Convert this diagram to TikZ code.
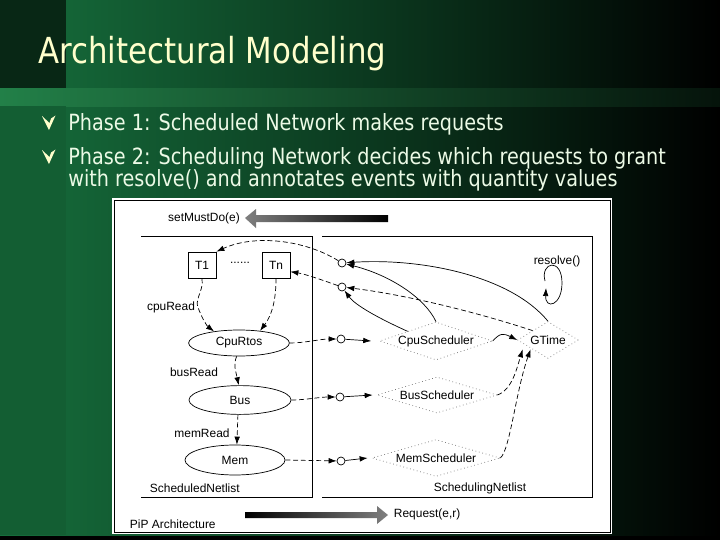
\documentclass[tikz,border=0pt]{standalone}
\usepackage{fontspec}
\usepackage{xcolor}
\usepackage{tikz}
\usetikzlibrary{arrows.meta,positioning,shapes.geometric}

\newfontfamily\slidefont[FakeStretch=0.86]{DejaVu Sans}
\newfontfamily\diagfont{Liberation Sans}

\definecolor{slidegreen}{RGB}{22,110,60}
\definecolor{bandgreen}{RGB}{34,128,72}
\definecolor{titleyellow}{RGB}{255,255,204}
\definecolor{bullettext}{RGB}{236,250,230}

\begin{document}
\begin{tikzpicture}[
    x=0.25mm, y=-0.25mm,
    font=\diagfont\fontsize{8.5}{10}\selectfont,
    >={Latex[length=2mm,width=1.4mm]},
    task/.style={draw, line width=0.5pt, minimum width=7mm, minimum height=6.5mm, inner sep=0pt},
    res/.style={draw, ellipse, line width=0.5pt, inner sep=0pt},
    port/.style={draw, circle, line width=0.5pt, minimum size=2mm, inner sep=0pt, fill=white},
    sched/.style={draw=black!55, dotted, diamond, line width=0.5pt, inner sep=0pt},
    flow/.style={->, dash pattern=on 3.5pt off 2pt, line width=0.5pt},
    link/.style={->, line width=0.5pt},
    netline/.style={line width=0.6pt},
    slidetitle/.style={anchor=base west, inner sep=0pt, text=titleyellow,
                       font=\slidefont\fontsize{25.5}{30}\selectfont},
    bulletline/.style={anchor=base west, inner sep=0pt, text=bullettext,
                       font=\slidefont\fontsize{15.9}{19}\selectfont}
]
\useasboundingbox (0,0) rectangle (720,540);

% --- slide background ---
\fill[black] (0,0) rectangle (720,540);
\shade[left color=slidegreen, right color=slidegreen!50!black] (0,0) rectangle (380,535);
\shade[left color=slidegreen!50!black, right color=black] (380,0) rectangle (720,535);
\shade[left color=bandgreen, right color=black!85!bandgreen] (0,88) rectangle (720,106);
\fill[slidegreen!35!black] (0,0) rectangle (66,88);
\fill[slidegreen!85!black] (0,106) rectangle (66,535);

% --- title and bullets ---
\node[slidetitle] (title) at (38,63) {Architectural Modeling};
\fill[titleyellow] (42,116) -- (49,130) -- (55.5,115.5) -- (51,118.5) -- (49.5,123) -- cycle;
\fill[titleyellow] (42,150) -- (49,164) -- (55.5,149.5) -- (51,152.5) -- (49.5,157) -- cycle;
\node[bulletline] (phase1) at (68,130) {Phase 1: Scheduled Network makes requests};
\node[bulletline] (phase2) at (68,164) {Phase 2: Scheduling Network decides which requests to grant};
\node[bulletline] (phase2b) at (68,186) {with resolve() and annotates events with quantity values};

% --- diagram panel ---
\fill[white] (112,198) rectangle (612,534);
\draw[line width=0.6pt] (114,200) rectangle (610,532);
\draw[netline] (141,236) -- (312,236) -- (312,497) -- (141,497);
\draw[netline] (322,236) -- (592,236) -- (592,497) -- (322,497);

% big arrows
\shade[left color=black!50, right color=black]
  (245,218) -- (256,209) -- (256,215) -- (388,215) -- (388,222) -- (256,222) -- (256,228) -- cycle;
\shade[left color=black, right color=black!50]
  (245,512) -- (377,512) -- (377,506) -- (388,515) -- (377,524) -- (377,518) -- (245,518) -- cycle;
\node (mustdo) at (204,218) {setMustDo(e)};
\node[anchor=west] (request) at (389,514) {Request(e,r)};

% --- Scheduled netlist ---
\node[task] (t1) at (202,265) {T1};
\node[task] (tn) at (276,265) {Tn};
\node (ellip) at (240,263) {......};
\node[res, minimum width=25.2mm, minimum height=6.5mm] (cpurtos) at (239,343) {CpuRtos};
\node[res, minimum width=25.5mm, minimum height=7.2mm] (bus) at (240,400) {Bus};
\node[res, minimum width=25mm, minimum height=7.5mm] (mem) at (235,460) {Mem};
\node (cpuread) at (171,307) {cpuRead};
\node (busread) at (194,372) {busRead};
\node (memread) at (202,433) {memRead};
\node[anchor=west] (schedl) at (145,488) {ScheduledNetlist};
\node[anchor=west] (pip) at (125,524) {PiP Architecture};

% --- ports ---
\node[port] (portT1) at (342,263) {};
\node[port] (portTn) at (342,287) {};
\node[port] (portCpu) at (341,339) {};
\node[port] (portBus) at (340,397) {};
\node[port] (portMem) at (341,461) {};

% --- Scheduling netlist ---
\node[sched, minimum width=28.2mm, minimum height=9.5mm, label=center:{CpuScheduler}] (cpus) at (436,341) {};
\node[sched, minimum width=15.2mm, minimum height=9.2mm, label=center:{GTime}] (gtime) at (548,340) {};
\node[sched, minimum width=30mm, minimum height=9mm, label=center:{BusScheduler}] (buss) at (437,395) {};
\node[sched, minimum width=32mm, minimum height=9.2mm, label=center:{MemScheduler}] (mems) at (436,458) {};
\node (schingl) at (480,488) {SchedulingNetlist};
\node (resolve) at (557,261) {resolve()};
\draw[link] (545,281) .. controls (540,262) and (562,257) .. (562,283)
  .. controls (562,306) and (545,310) .. (546,288);

% Phase 1: requests
\draw[flow] (t1.south) .. controls (204,292) and (193,300) .. (199,310)
  .. controls (203,320) and (207,326) .. (cpurtos.155);
\draw[flow] (tn.south) .. controls (276,300) and (272,315) .. (cpurtos.30);
\draw[flow] (cpurtos.260) .. controls (233,365) and (236,372) .. (bus.95);
\draw[flow] (bus.262) -- (mem.83);
\draw[flow] (cpurtos.east) .. controls (305,343) and (320,339) .. (portCpu);
\draw[flow] (bus.east) .. controls (305,400) and (320,397) .. (portBus);
\draw[flow] (mem.east) -- (portMem);
\draw[link] (portCpu) -- ([xshift=-2mm]cpus.west);
\draw[link] (portBus) -- ([xshift=-1mm]buss.west);
\draw[link] (portMem) -- ([xshift=-1mm]mems.west);

% Phase 2: grants
\draw[flow] (portT1) .. controls (305,240) and (255,234) .. (t1.north east);
\draw[flow] (portTn) .. controls (322,280) and (305,274) .. (tn.-25);
\draw[link] (cpus.north) .. controls (425,298) and (390,275) .. (portT1);
\draw[link] (cpus.north west) .. controls (378,318) and (355,305) .. (portTn);
\draw[link] (gtime.north) .. controls (510,275) and (420,258) .. (portT1);
\draw[flow] (gtime.north west) .. controls (470,310) and (400,294) .. (portTn);
\draw[link] (cpus.east) .. controls (500,333) and (503,333) .. (gtime.west);
\draw[flow] (buss.east) .. controls (512,390) and (517,368) .. ([xshift=-2.5mm]gtime.south west);
\draw[flow] (mems.east) .. controls (510,450) and (516,390) .. ([xshift=-0.5mm]gtime.south west);

\end{tikzpicture}
\end{document}
